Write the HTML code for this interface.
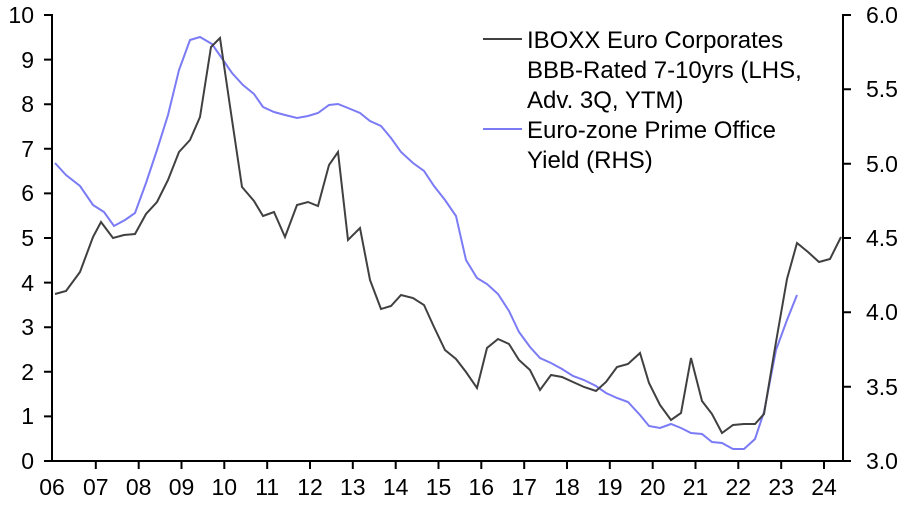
<!DOCTYPE html>
<html><head><meta charset="utf-8"><style>
html,body{margin:0;padding:0;background:#fff;}
svg{display:block;font-family:"Liberation Sans",sans-serif;}
</style></head><body>
<svg width="903" height="508" viewBox="0 0 903 508" xmlns="http://www.w3.org/2000/svg">
<g stroke="#000" stroke-width="2" fill="none">
<line x1="52" y1="14" x2="52" y2="462"/>
<line x1="843" y1="14" x2="843" y2="462"/>
<line x1="44" y1="461" x2="851" y2="461"/>
<path d="M44 15h8M44 59.6h8M44 104.2h8M44 148.8h8M44 193.4h8M44 238h8M44 282.6h8M44 327.2h8M44 371.8h8M44 416.4h8"/>
<path d="M843 15h8M843 89.3h8M843 163.7h8M843 238h8M843 312.3h8M843 386.7h8"/>
<path d="M95.8 461v8M138.7 461v8M181.5 461v8M224.3 461v8M267.2 461v8M310 461v8M352.8 461v8M395.7 461v8M438.5 461v8M481.3 461v8M524.2 461v8M567 461v8M609.8 461v8M652.7 461v8M695.5 461v8M738.3 461v8M781.2 461v8M824 461v8"/>
</g>
<g font-size="23" fill="#000" text-anchor="end">
<text x="34" y="23">10</text><text x="34" y="68">9</text><text x="34" y="112">8</text><text x="34" y="157">7</text><text x="34" y="201">6</text><text x="34" y="246">5</text><text x="34" y="291">4</text><text x="34" y="335">3</text><text x="34" y="380">2</text><text x="34" y="424">1</text><text x="34" y="469">0</text>
</g>
<g font-size="23" fill="#000">
<text x="866" y="23">6.0</text><text x="866" y="97">5.5</text><text x="866" y="172">5.0</text><text x="866" y="246">4.5</text><text x="866" y="320">4.0</text><text x="866" y="395">3.5</text><text x="866" y="469">3.0</text>
</g>
<g font-size="23" fill="#000" text-anchor="middle">
<text x="52" y="495">06</text><text x="95.8" y="495">07</text><text x="138.7" y="495">08</text><text x="181.5" y="495">09</text><text x="224.3" y="495">10</text><text x="267.2" y="495">11</text><text x="310" y="495">12</text><text x="352.8" y="495">13</text><text x="395.7" y="495">14</text><text x="438.5" y="495">15</text><text x="481.3" y="495">16</text><text x="524.2" y="495">17</text><text x="567" y="495">18</text><text x="609.8" y="495">19</text><text x="652.7" y="495">20</text><text x="695.5" y="495">21</text><text x="738.3" y="495">22</text><text x="781.2" y="495">23</text><text x="824" y="495">24</text>
</g>
<polyline fill="none" stroke="#7b7bf5" stroke-width="2" points="55,163 66,175 80,186 93,205 104,212 114,226 125,220 135,213 146,183 157,150 168,115 179,70 190,40 200,37 212,44 221,57 232,73 243,85 254,94 263,107 274,112 285,115 297,118 308,116 318,113 329,105 338,104 348,108 360,113 370,121 381,126 391,138 401,152 413,163 424,171 434,186 445,200 456,216 466,260 477,278 487,284 498,294 509,311 519,332 530,347 540,358 551,363 562,369 573,376 584,380 596,386 606,393 617,398 628,402 640,415 649,426 660,428 671,424 681,428 691,433 702,434 712,442 722,443 733,449 744,449 755,439 764,412 776,350 787,320 797,295"/>
<polyline fill="none" stroke="#404040" stroke-width="2" points="55,294 66,291 80,272 93,237 101,222 113,238 124,235 135,234 146,214 157,202 168,180 179,152 190,140 200,117 211,47 220,38 231,113 242,187 254,201 263,216 274,212 285,237 297,205 308,202 318,206 329,165 338,152 348,240 360,228 370,280 381,309 391,306 401,295 413,298 424,305 434,327 445,350 456,359 466,372 477,388 487,348 498,339 509,344 519,360 530,370 540,390 551,375 562,377 573,382 584,387 596,391 606,382 617,367 628,364 640,353 649,383 660,405 671,420 681,413 691,358 702,401 712,414 722,433 733,425 744,424 755,424 764,414 776,342 787,279 797,243 808,252 819,262 830,259 841,237"/>
<line x1="483" y1="39" x2="522" y2="39" stroke="#404040" stroke-width="2"/>
<line x1="483" y1="129" x2="522" y2="129" stroke="#7b7bf5" stroke-width="2"/>
<g font-size="24" fill="#000">
<text x="527" y="48">IBOXX Euro Corporates</text>
<text x="527" y="78">BBB-Rated 7-10yrs (LHS,</text>
<text x="527" y="108">Adv. 3Q, YTM)</text>
<text x="527" y="138">Euro-zone Prime Office</text>
<text x="527" y="168">Yield (RHS)</text>
</g>
</svg>
</body></html>
